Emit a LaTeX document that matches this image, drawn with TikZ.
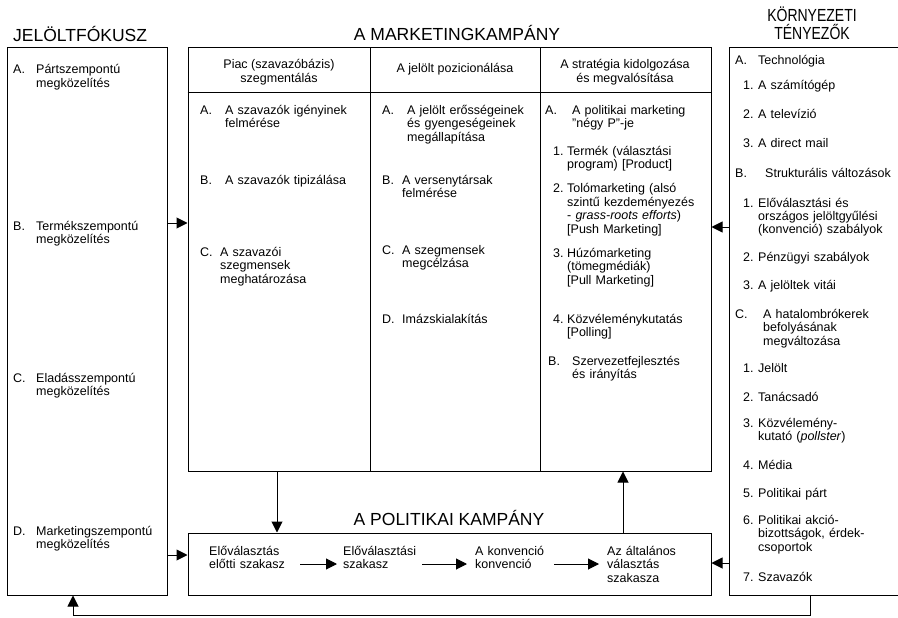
\documentclass[tikz,border=0pt]{standalone}
\usepackage{fontspec}
\setmainfont{Liberation Sans}
\usetikzlibrary{arrows.meta}
\newcommand\bodyfont{\fontsize{12.5}{13.5}\selectfont}
\newcommand\titlefont{\fontsize{17.5}{18}\selectfont}
\tikzset{
  box/.style={draw, line width=1pt, inner sep=0pt},
  ttl/.style={font=\titlefont, inner sep=0pt, anchor=base},
  lbl/.style={font=\bodyfont, inner sep=0pt, anchor=base west},
  txt/.style={font=\bodyfont, inner sep=0pt, anchor=base west, align=left, text width=#1},
  txt/.default=150pt,
  hdr/.style={font=\bodyfont, inner sep=0pt, align=center},
  arr/.style={line width=1pt, -{Triangle[length=11pt,width=11pt]}},
}
\begin{document}
\begin{tikzpicture}[x=1pt, y=-1pt]
  \useasboundingbox (0,0) rectangle (898,618);
  % frames
  \node[box, minimum width=160pt, minimum height=547pt] (focus) at (87,321.5) {};
  \node[box, minimum width=523pt, minimum height=423pt] (mkt) at (449.5,259.5) {};
  \node[box, minimum width=523pt, minimum height=62pt] (pol) at (449.5,564) {};
  \node[box, minimum width=171pt, minimum height=547pt] (env) at (814.5,321.5) {};
  \coordinate (c1) at (370,93);
  \coordinate (c2) at (540,93);
  \draw[line width=1pt]
    (mkt.west |- c1) -- (mkt.east |- c1)
    (mkt.north -| c1) -- (mkt.south -| c1)
    (mkt.north -| c2) -- (mkt.south -| c2);

  % titles
  \node[ttl, anchor=base west] (focus-t) at (13,42) {JELÖLTFÓKUSZ};
  \node[ttl] (mkt-t) at (457,41) {A MARKETINGKAMPÁNY};
  \node[ttl] (pol-t) at (449,525) {A POLITIKAI KAMPÁNY};
  \node[ttl, text width=120pt, align=center,
    font={\titlefont\addfontfeature{FakeStretch=0.8}}] (env-t) at (812,22) {KÖRNYEZETI\\TÉNYEZŐK};

  % column heads
  \node[hdr] (h1) at (279,72) {Piac (szavazóbázis)\\szegmentálás};
  \node[hdr] (h2) at (455,69) {A jelölt pozicionálása};
  \node[hdr] (h3) at (625,72) {A stratégia kidolgozása\\és megvalósítása};

  % candidate focus
  \node[lbl] (fa) at (13,74) {A.};
  \node[txt] (fa-t) at (36,74) {Pártszempontú\\megközelítés};
  \node[lbl] (fb) at (13,230) {B.};
  \node[txt] (fb-t) at (36,230) {Termékszempontú\\megközelítés};
  \node[lbl] (fc) at (13,382) {C.};
  \node[txt] (fc-t) at (36,382) {Eladásszempontú\\megközelítés};
  \node[lbl] (fd) at (13,535) {D.};
  \node[txt] (fd-t) at (36,535) {Marketingszempontú\\megközelítés};

  % segmentation
  \node[lbl] (sa) at (200,114) {A.};
  \node[txt] (sa-t) at (225,114) {A szavazók igényinek\\felmérése};
  \node[lbl] (sb) at (200,184) {B.};
  \node[txt] (sb-t) at (225,184) {A szavazók tipizálása};
  \node[lbl] (sc) at (200,256) {C.};
  \node[txt] (sc-t) at (220,256) {A szavazói\\szegmensek\\meghatározása};

  % positioning
  \node[lbl] (qa) at (382,114) {A.};
  \node[txt] (qa-t) at (407,114) {A jelölt erősségeinek\\és gyengeségeinek\\megállapítása};
  \node[lbl] (qb) at (382,184) {B.};
  \node[txt] (qb-t) at (402,184) {A versenytársak\\felmérése};
  \node[lbl] (qc) at (382,254) {C.};
  \node[txt] (qc-t) at (402,254) {A szegmensek\\megcélzása};
  \node[lbl] (qd) at (382,323) {D.};
  \node[txt] (qd-t) at (402,323) {Imázskialakítás};

  % strategy
  \node[lbl] (ra) at (545,114) {A.};
  \node[txt] (ra-t) at (572,114) {A politikai marketing\\"négy P"-je};
  \node[lbl] (r1) at (553,155) {1.};
  \node[txt] (r1-t) at (567,155) {Termék (választási\\program) [Product]};
  \node[lbl] (r2) at (553,193) {2.};
  \node[txt] (r2-t) at (567,193) {Tolómarketing (alsó\\szintű kezdeményezés\\- \textit{grass-roots efforts})\\{[Push Marketing]}};
  \node[lbl] (r3) at (553,257) {3.};
  \node[txt] (r3-t) at (567,257) {Húzómarketing\\(tömegmédiák)\\{[Pull Marketing]}};
  \node[lbl] (r4) at (553,323) {4.};
  \node[txt] (r4-t) at (567,323) {Közvéleménykutatás\\{[Polling]}};
  \node[lbl] (rb) at (548,365) {B.};
  \node[txt] (rb-t) at (572,365) {Szervezetfejlesztés\\és irányítás};

  % environment
  \node[lbl] (ea) at (735,65) {A.};
  \node[txt] (ea-t) at (758,65) {Technológia};
  \node[lbl] (ea1) at (743,90) {1.};
  \node[txt] (ea1-t) at (758,90) {A számítógép};
  \node[lbl] (ea2) at (743,118) {2.};
  \node[txt] (ea2-t) at (758,118) {A televízió};
  \node[lbl] (ea3) at (743,147) {3.};
  \node[txt] (ea3-t) at (758,147) {A direct mail};
  \node[lbl] (eb) at (735,177) {B.};
  \node[txt] (eb-t) at (765,177) {Strukturális változások};
  \node[lbl] (eb1) at (743,207) {1.};
  \node[txt] (eb1-t) at (758,207) {Előválasztási és\\országos jelöltgyűlési\\(konvenció) szabályok};
  \node[lbl] (eb2) at (743,261) {2.};
  \node[txt] (eb2-t) at (758,261) {Pénzügyi szabályok};
  \node[lbl] (eb3) at (743,289) {3.};
  \node[txt] (eb3-t) at (758,289) {A jelöltek vitái};
  \node[lbl] (ec) at (735,318) {C.};
  \node[txt] (ec-t) at (763,318) {A hatalombrókerek\\befolyásának\\megváltozása};
  \node[lbl] (ec1) at (743,372) {1.};
  \node[txt] (ec1-t) at (758,372) {Jelölt};
  \node[lbl] (ec2) at (743,401) {2.};
  \node[txt] (ec2-t) at (758,401) {Tanácsadó};
  \node[lbl] (ec3) at (743,427) {3.};
  \node[txt] (ec3-t) at (758,427) {Közvélemény-\\kutató (\textit{pollster})};
  \node[lbl] (ec4) at (743,469) {4.};
  \node[txt] (ec4-t) at (758,469) {Média};
  \node[lbl] (ec5) at (743,497) {5.};
  \node[txt] (ec5-t) at (758,497) {Politikai párt};
  \node[lbl] (ec6) at (743,524) {6.};
  \node[txt] (ec6-t) at (758,524) {Politikai akció-\\bizottságok, érdek-\\csoportok};
  \node[lbl] (ec7) at (743,581) {7.};
  \node[txt] (ec7-t) at (758,581) {Szavazók};

  % campaign phases
  \node[txt=88pt] (p1) at (209,555) {Előválasztás\\előtti szakasz};
  \node[txt=76pt] (p2) at (343,555) {Előválasztási\\szakasz};
  \node[txt=76pt] (p3) at (475,555) {A konvenció\\konvenció};
  \node[txt=80pt] (p4) at (607,555) {Az általános\\választás\\szakasza};
  \coordinate (pa) at (0,564);
  \draw[arr, shorten <=3pt, shorten >=6pt] (p1.east |- pa) -- (p2.west |- pa);
  \draw[arr, shorten <=3pt, shorten >=8pt] (p2.east |- pa) -- (p3.west |- pa);
  \draw[arr, shorten <=3pt, shorten >=8pt] (p3.east |- pa) -- (p4.west |- pa);

  % links between frames
  \coordinate (a1) at (0,223);
  \coordinate (a2) at (0,555);
  \coordinate (a3) at (0,227);
  \coordinate (a4) at (0,563);
  \coordinate (a5) at (277,0);
  \coordinate (a6) at (623,0);
  \draw[arr] (focus.east |- a1) -- (mkt.west |- a1);
  \draw[arr] (focus.east |- a2) -- (pol.west |- a2);
  \draw[arr] (env.west |- a3) -- (mkt.east |- a3);
  \draw[arr] (env.west |- a4) -- (pol.east |- a4);
  \draw[arr] (mkt.south -| a5) -- (pol.north -| a5);
  \draw[arr] (pol.north -| a6) -- (mkt.south -| a6);
  \coordinate (fb1) at (810,615);
  \coordinate (fb2) at (73,615);
  \draw[arr] (env.south -| fb1) -- (fb1) -- (fb2) -- (focus.south -| fb2);
\end{tikzpicture}
\end{document}
